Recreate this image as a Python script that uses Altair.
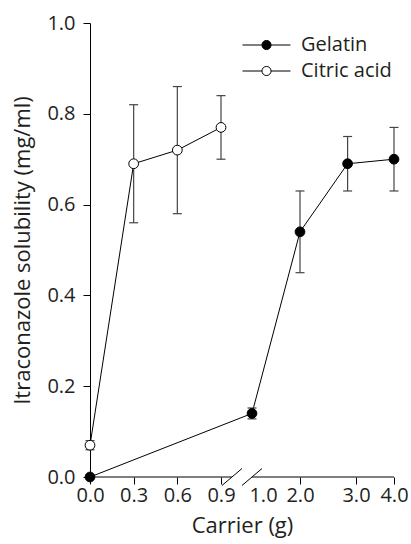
import altair as alt
import pandas as pd

# ---- data ----
series_names = ["Gelatin", "Citric acid"]

gelatin_x = [0.0, 1.0, 2.0, 2.85, 4.0]
gelatin_y = [0.0, 0.14, 0.54, 0.69, 0.70]
gelatin_lo = [0.0, 0.128, 0.45, 0.63, 0.63]
gelatin_hi = [0.0, 0.152, 0.63, 0.75, 0.77]

citric_x = [0.0, 0.3, 0.6, 0.9]
citric_y = [0.07, 0.69, 0.72, 0.77]
citric_lo = [0.06, 0.56, 0.58, 0.70]
citric_hi = [0.08, 0.82, 0.86, 0.84]

x_tick_values = [0.0, 0.3, 0.6, 0.9, 1.0, 2.0, 3.0, 4.0]
y_tick_values = [0.0, 0.2, 0.4, 0.6, 0.8, 1.0]

# broken x axis: two baseline segments and two slash marks
axis_seg_start = [0.0, 1.0]
axis_seg_end = [0.935, 4.0]
axis_seg_y = [0.0, 0.0]
slash_x = [0.9032, 0.9677]
slash_x2 = [0.9677, 1.2083]
slash_y = [-0.0187, -0.0187]
slash_y2 = [0.0187, 0.0187]

rows = []
for name, xs, ys, los, his in [
    ("Gelatin", gelatin_x, gelatin_y, gelatin_lo, gelatin_hi),
    ("Citric acid", citric_x, citric_y, citric_lo, citric_hi),
]:
    for i, (x, y, lo, hi) in enumerate(zip(xs, ys, los, his)):
        rows.append(dict(series=name, carrier=x, sol=y, lo=lo, hi=hi, order=i))
df = pd.DataFrame(rows)
err_df = df[df["hi"] > df["lo"]]

axis_df = pd.DataFrame({"x": axis_seg_start, "x2": axis_seg_end, "y": axis_seg_y})
slash_df = pd.DataFrame({"x": slash_x, "x2": slash_x2, "y": slash_y, "y2": slash_y2})

FONT = "Open Sans"
TXT = "#231f20"

x_scale = alt.Scale(domain=[0, 0.9, 1.0, 2.0, 3.0, 4.0],
                    range=[0, 131, 162, 210, 266, 304])
y_scale = alt.Scale(domain=[0, 1], nice=False, zero=True)

x_axis = alt.Axis(
    values=x_tick_values, format=".1f", title="Carrier (g)", grid=False,
    domain=False, tickSize=7, tickColor="black", tickWidth=1,
    tickOpacity={"condition": {"test": "datum.value == 1", "value": 0}, "value": 1},
    labelOffset={"condition": {"test": "datum.value == 1", "value": 11}, "value": 0},
    labelOverlap=False, labelFlush=False, labelPadding=1,
    labelFont=FONT, labelFontSize=20, labelColor=TXT,
    titleFont=FONT, titleFontSize=22, titleFontWeight="normal", titleColor=TXT,
    titlePadding=10,
)
y_axis = alt.Axis(
    values=y_tick_values, format=".1f", title="Itraconazole solubility (mg/ml)",
    grid=False, domainColor="black", domainWidth=1, tickSize=7,
    tickColor="black", tickWidth=1, labelPadding=8, labelOverlap=False,
    labelFont=FONT, labelFontSize=20, labelColor=TXT,
    titleFont=FONT, titleFontSize=22, titleFontWeight="normal", titleColor=TXT,
    titlePadding=12,
)


def xq(field):
    return alt.X(f"{field}:Q", scale=x_scale, axis=x_axis)


def yq(field):
    return alt.Y(f"{field}:Q", scale=y_scale, axis=y_axis)


legend_symbol = ("M-1,0L-0.19,0M0.19,0L1,0"
                 "M-0.19,0A0.19,0.19,0,1,1,0.19,0A0.19,0.19,0,1,1,-0.19,0Z")

base = alt.Chart(df)

err_rules = alt.Chart(err_df).mark_rule(color="#444", strokeWidth=1.2).encode(
    x=xq("carrier"), y=yq("lo"), y2="hi:Q", detail="series:N",
)
caps_lo = alt.Chart(err_df).mark_tick(orient="horizontal", size=9, thickness=1.2,
                                      color="#444", opacity=1).encode(
    x=xq("carrier"), y=yq("lo"),
)
caps_hi = alt.Chart(err_df).mark_tick(orient="horizontal", size=9, thickness=1.2,
                                      color="#444", opacity=1).encode(
    x=xq("carrier"), y=yq("hi"),
)

lines = base.mark_line(color="black", strokeWidth=1).encode(
    x=xq("carrier"), y=yq("sol"), detail="series:N", order="order:Q",
)

points = base.mark_point(shape="circle", size=95, stroke="black", strokeWidth=1,
                         opacity=1).encode(
    x=xq("carrier"), y=yq("sol"),
    fill=alt.Fill(
        "series:N",
        scale=alt.Scale(domain=series_names, range=["black", "white"]),
        legend=alt.Legend(
            title=None, orient="none", legendX=152, legendY=10,
            symbolType=legend_symbol, symbolSize=2304,
            symbolStrokeColor="black", symbolStrokeWidth=1, symbolOpacity=1,
            clipHeight=24, rowPadding=2, padding=0, labelOffset=10,
            labelFont=FONT, labelFontSize=20, labelColor=TXT,
        ),
    ),
)

axis_line = alt.Chart(axis_df).mark_rule(color="black", strokeWidth=1).encode(
    x=xq("x"), x2="x2:Q", y=yq("y"),
)

slashes = alt.Chart(slash_df).mark_rule(color="black", strokeWidth=1).encode(
    x=xq("x"), x2="x2:Q", y=yq("y"), y2="y2:Q",
)

chart = alt.layer(lines, err_rules, caps_lo, caps_hi, axis_line, slashes, points).properties(
    width=304, height=454,
    autosize=alt.AutoSizeParams(type="none"),
    padding={"left": 90, "top": 23, "right": 17, "bottom": 67},
    background="white",
).configure_view(stroke=None)

chart.save("out.html", embed_options={"renderer": "svg", "actions": False})
